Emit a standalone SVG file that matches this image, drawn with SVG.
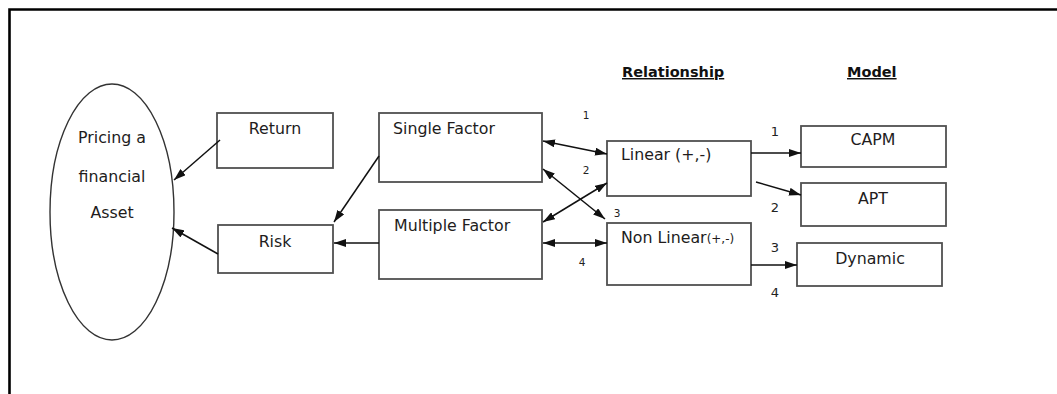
<svg xmlns="http://www.w3.org/2000/svg" width="1057" height="394" viewBox="0 0 1057 394">
<defs>
<marker id="ah" viewBox="0 0 12 8" refX="12" refY="4" markerWidth="12" markerHeight="8" markerUnits="userSpaceOnUse" orient="auto-start-reverse">
<path d="M0,0 L12,4 L0,8 Z" fill="#111"/>
</marker>
<style>
.box{fill:#fff;stroke:#505050;stroke-width:1.8}
.t{font-family:"DejaVu Sans","Liberation Sans",sans-serif;font-size:15.8px;fill:#221c1c}
.h{font-family:"DejaVu Sans","Liberation Sans",sans-serif;font-size:14.5px;font-weight:bold;fill:#111;text-decoration:underline}
.n{font-family:"DejaVu Sans","Liberation Sans",sans-serif;font-size:13px;fill:#222}
.s{font-family:"DejaVu Sans","Liberation Sans",sans-serif;font-size:10.5px;fill:#222}
.c{stroke:#111;stroke-width:1.5;fill:none}
</style>
</defs>
<rect width="1057" height="394" fill="#fff"/>
<path d="M9.5,394 V9.5 H1057" fill="none" stroke="#000" stroke-width="2.6"/>

<g id="pricing">
<ellipse cx="112" cy="212" rx="62" ry="128" fill="#fff" stroke="#333" stroke-width="1.4"/>
<text class="t" x="112" y="143" text-anchor="middle">Pricing a</text>
<text class="t" x="112" y="182" text-anchor="middle">financial</text>
<text class="t" x="112" y="218" text-anchor="middle">Asset</text>
</g>
<g id="return">
<rect class="box" x="217" y="113" width="116" height="55"/>
<text class="t" x="275" y="134" text-anchor="middle">Return</text>
</g>
<g id="risk">
<rect class="box" x="218" y="225" width="115" height="48"/>
<text class="t" x="275" y="247" text-anchor="middle">Risk</text>
</g>
<g id="single">
<rect class="box" x="379" y="113" width="163" height="69"/>
<text class="t" x="393" y="134">Single Factor</text>
</g>
<g id="multiple">
<rect class="box" x="379" y="210" width="163" height="69"/>
<text class="t" x="394" y="231">Multiple Factor</text>
</g>
<g id="linear">
<rect class="box" x="607" y="141" width="144" height="55"/>
<text class="t" x="621" y="160">Linear (+,-)</text>
</g>
<g id="nonlinear">
<rect class="box" x="607" y="223" width="144" height="62"/>
<text class="t" x="621" y="243">Non Linear<tspan font-size="12px">(+,-)</tspan></text>
</g>
<g id="capm">
<rect class="box" x="801" y="126" width="145" height="41"/>
<text class="t" x="873" y="145" text-anchor="middle">CAPM</text>
</g>
<g id="apt">
<rect class="box" x="801" y="183" width="145" height="43"/>
<text class="t" x="873" y="204" text-anchor="middle">APT</text>
</g>
<g id="dynamic">
<rect class="box" x="797" y="243" width="145" height="43"/>
<text class="t" x="870" y="264" text-anchor="middle">Dynamic</text>
</g>
<g id="headings">
<text class="h" x="622" y="77">Relationship</text>
<text class="h" x="847" y="77">Model</text>
</g>

<g id="connectors">
<line class="c" x1="220" y1="140" x2="174" y2="180" marker-end="url(#ah)"/>
<line class="c" x1="218" y1="254" x2="172" y2="228" marker-end="url(#ah)"/>
<line class="c" x1="379" y1="156" x2="334" y2="222" marker-end="url(#ah)"/>
<line class="c" x1="379" y1="243" x2="334" y2="243" marker-end="url(#ah)"/>
<line class="c" x1="543" y1="141" x2="607" y2="154" marker-start="url(#ah)" marker-end="url(#ah)"/>
<line class="c" x1="543" y1="169" x2="605" y2="219" marker-start="url(#ah)" marker-end="url(#ah)"/>
<line class="c" x1="543" y1="222" x2="607" y2="183" marker-start="url(#ah)" marker-end="url(#ah)"/>
<line class="c" x1="543" y1="243" x2="607" y2="243" marker-start="url(#ah)" marker-end="url(#ah)"/>
<line class="c" x1="751" y1="153" x2="801" y2="153" marker-end="url(#ah)"/>
<line class="c" x1="756" y1="182" x2="801" y2="195" marker-end="url(#ah)"/>
<line class="c" x1="751" y1="265" x2="797" y2="265" marker-end="url(#ah)"/>
<text class="s" x="586" y="119" text-anchor="middle">1</text>
<text class="s" x="586" y="174" text-anchor="middle">2</text>
<text class="s" x="617" y="217" text-anchor="middle">3</text>
<text class="s" x="582" y="266" text-anchor="middle">4</text>
<text class="n" x="775" y="136" text-anchor="middle">1</text>
<text class="n" x="775" y="212" text-anchor="middle">2</text>
<text class="n" x="775" y="252" text-anchor="middle">3</text>
<text class="n" x="775" y="297" text-anchor="middle">4</text>
</g>
</svg>
